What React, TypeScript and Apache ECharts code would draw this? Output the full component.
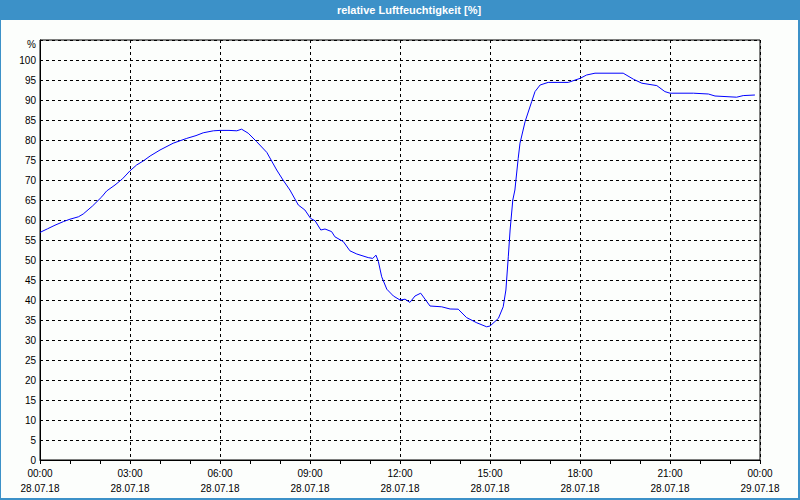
import React, { useEffect, useRef } from "react";
import * as echarts from "echarts";

const TITLE = "relative Luftfeuchtigkeit [%]";
const Y_UNIT = "%";

// hours since 28.07.18 00:00
const hours = [
  0, 0.25, 0.5, 0.78, 1.0, 1.28, 1.44, 1.75, 2.06, 2.22, 2.5, 2.75, 3.0, 3.22, 3.45, 3.67,
  4.0, 4.44, 4.89, 5.2, 5.44, 5.78, 6.0, 6.3, 6.56, 6.72, 6.94, 7.22, 7.56, 7.89, 8.1, 8.33,
  8.61, 8.83, 9.02, 9.17, 9.36, 9.5, 9.72, 9.83, 10.11, 10.33, 10.56, 10.94, 11.09, 11.2,
  11.28, 11.39, 11.56, 11.78, 12.0, 12.17, 12.33, 12.5, 12.69, 13.0, 13.39, 13.67, 13.94,
  14.22, 14.56, 14.89, 15.0, 15.28, 15.44, 15.53, 15.61, 15.67, 15.76, 15.83, 15.94, 16.0,
  16.17, 16.39, 16.5, 16.67, 16.94, 17.61, 18.0, 18.22, 18.5, 19.44, 19.78, 20.06, 20.56,
  20.83, 21.0, 21.78, 22.28, 22.5, 23.22, 23.44, 23.83,
];

const humidity = [
  56.9, 57.8, 58.7, 59.6, 60.2, 60.8, 61.5, 63.5, 65.8, 67.25, 68.75, 70.3, 72.3, 73.75, 74.8, 76,
  77.5, 79.2, 80.4, 81.1, 81.8, 82.3, 82.4, 82.4, 82.3, 82.7, 81.7, 79.6, 76.9, 72.5, 70, 67.5,
  63.75, 62.5, 60.4, 59.8, 57.5, 57.75, 57.1, 55.8, 54.6, 52.3, 51.5, 50.6, 50.4, 51.2,
  49.6, 45.8, 42.7, 41, 40, 40.2, 39.4, 41, 41.7, 38.5, 38.3, 37.75, 37.7,
  35.6, 34.3, 33.3, 33.5, 35.4, 38.3, 42.5, 50.8, 57.5, 65, 67.5, 75.4, 79.2,
  84.6, 89.6, 92.1, 93.75, 94.4, 94.4, 95.4, 96.25, 96.7, 96.7, 95.2, 94.2, 93.6,
  92.1, 91.7, 91.7, 91.5, 91, 90.7, 91.1, 91.25,
];

const xTickHours = [0, 3, 6, 9, 12, 15, 18, 21, 24];
const xTickTimes = ["00:00", "03:00", "06:00", "09:00", "12:00", "15:00", "18:00", "21:00", "00:00"];
const xTickDates = ["28.07.18", "28.07.18", "28.07.18", "28.07.18", "28.07.18", "28.07.18", "28.07.18", "28.07.18", "29.07.18"];

const FRAME_BLUE = "#3c91c8";
const FONT = "Liberation Sans, Arial, sans-serif";

export default function App() {
  const ref = useRef<HTMLDivElement>(null);

  useEffect(() => {
    if (!ref.current) return;
    const chart = echarts.init(ref.current, null, { renderer: "svg" });
    const data = hours.map((h, i) => [h, humidity[i]]);
    chart.setOption({
      animation: false,
      backgroundColor: "#fcfefc",
      textStyle: { fontFamily: FONT },
      graphic: [
        { type: "rect", z: -1, shape: { x: 0, y: 0, width: 800, height: 20 }, style: { fill: FRAME_BLUE } },
        { type: "rect", shape: { x: 0, y: 0, width: 1, height: 500 }, style: { fill: FRAME_BLUE } },
        { type: "rect", shape: { x: 798, y: 0, width: 2, height: 500 }, style: { fill: FRAME_BLUE } },
        { type: "rect", shape: { x: 0, y: 498, width: 800, height: 2 }, style: { fill: FRAME_BLUE } },
        {
          type: "text",
          x: 409,
          y: 10,
          style: {
            text: TITLE,
            fill: "#ffffff",
            font: `bold 11px ${FONT}`,
            align: "center",
            verticalAlign: "middle",
          },
        },
        {
          type: "text",
          x: 36,
          y: 44,
          style: { text: Y_UNIT, fill: "#000", font: `10px ${FONT}`, align: "right", verticalAlign: "middle" },
        },
      ],
      grid: {
        left: 40,
        right: 40,
        top: 40,
        bottom: 40,
        show: true,
        borderColor: "#000",
        borderWidth: 1,
        backgroundColor: "transparent",
      },
      xAxis: {
        type: "value",
        min: 0,
        max: 24,
        interval: 3,
        axisLine: { show: true, lineStyle: { color: "#000", width: 1 } },
        axisTick: { show: true, length: 4, lineStyle: { color: "#000" } },
        minorTick: { show: true, splitNumber: 3, length: 4, lineStyle: { color: "#000" } },
        splitLine: { show: true, lineStyle: { color: "#000", type: [3, 3], width: 1 } },
        axisLabel: {
          color: "#000",
          fontSize: 10,
          fontFamily: FONT,
          lineHeight: 15,
          margin: 6,
          formatter: (v: number) => {
            const i = xTickHours.indexOf(v);
            return i >= 0 ? `${xTickTimes[i]}\n${xTickDates[i]}` : "";
          },
        },
      },
      yAxis: {
        type: "value",
        min: 0,
        max: 105,
        interval: 5,
        axisLine: { show: true, lineStyle: { color: "#000", width: 1 } },
        axisTick: { show: false },
        splitLine: { show: true, lineStyle: { color: "#000", type: [3, 3], width: 1 } },
        axisLabel: {
          color: "#000",
          fontSize: 10,
          fontFamily: FONT,
          margin: 4,
          formatter: (v: number) => (v > 100 ? "" : String(v)),
        },
      },
      series: [
        {
          type: "line",
          data,
          showSymbol: false,
          smooth: false,
          lineStyle: { color: "#0000ff", width: 1 },
          itemStyle: { color: "#0000ff" },
        },
      ],
    });
    return () => chart.dispose();
  }, []);

  return (
    <div
      ref={ref}
      style={{ position: "fixed", left: 0, top: 0, width: 800, height: 500 }}
    />
  );
}
